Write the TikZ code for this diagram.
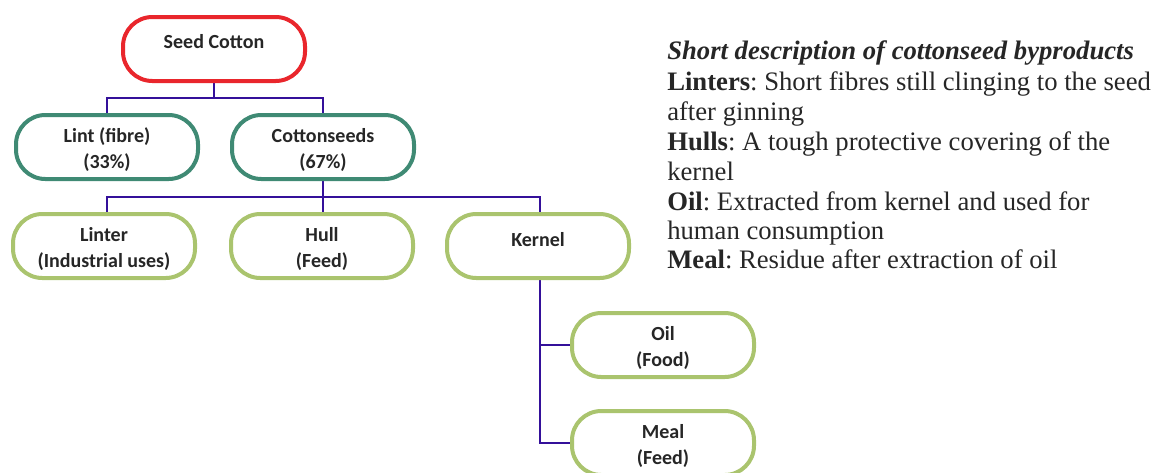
\documentclass[tikz,border=0pt]{standalone}
\usepackage{fontspec}
\newfontfamily\boxfont{Carlito}
\newfontfamily\descfont{Liberation Serif}
\definecolor{redc}{HTML}{E9262C}
\definecolor{tealc}{HTML}{3F8A74}
\definecolor{greenc}{HTML}{AAC46E}
\definecolor{linec}{HTML}{34109A}
\definecolor{txt}{HTML}{262626}
\begin{document}
\frenchspacing
\begin{tikzpicture}[x=0.75pt,y=-0.75pt,
  box/.style={draw, line width=3pt, fill=white, rounded corners=22pt,
    minimum width=136.5pt, minimum height=48pt, inner sep=0pt},
  redbox/.style={box, draw=redc},
  tealbox/.style={box, draw=tealc},
  greenbox/.style={box, draw=greenc},
  lbl/.style={inner sep=0pt, align=center, text=txt,
    font=\boxfont\bfseries\fontsize{15}{19.5}\selectfont},
  conn/.style={draw=linec, line width=1.5pt},
  desc/.style={anchor=base west, inner sep=0pt, text=txt, font=\descfont\fontsize{20}{24}\selectfont}]
\useasboundingbox (0,0) rectangle (1157,472);
\clip (0,0) rectangle (1157,472);
% junction points
\coordinate (j1) at (214,98);
\coordinate (j2) at (323,197);
\coordinate (k) at (540,280);
% connectors (drawn first, boxes on top)
\path[conn] (214,80) -- (j1);
\path[conn] (107,116) |- (j1) -| (323,116);
\path[conn] (323,178) -- (j2);
\path[conn] (107,215) |- (j2) -| (540,215);
\path[conn] (j2) -- (323,215);
\path[conn] (k) |- (573,345);
\path[conn] (k) |- (573,443);
% boxes
\node[redbox]   (seed)   at (214,49)  {};
\node[tealbox]  (lint)   at (107,147) {};
\node[tealbox]  (cs)     at (323,147) {};
\node[greenbox] (linter) at (104,246) {};
\node[greenbox] (hull)   at (322,246) {};
\node[greenbox] (kernel) at (538,246) {};
\node[greenbox] (oil)    at (663,345) {};
\node[greenbox] (meal)   at (663,443) {};
% labels
\node[lbl] (tseed)   at ([yshift=5.5pt]seed.center)   {Seed Cotton};
\node[lbl] (tlint)   at ([yshift=-2pt]lint.center)    {Lint (fibre)\\(33\%)};
\node[lbl] (tcs)     at ([yshift=-2pt]cs.center)      {Cottonseeds\\(67\%)};
\node[lbl] (tlinter) at ([yshift=-2pt]linter.center)  {Linter\\(Industrial uses)};
\node[lbl] (thull)   at ([yshift=-2pt]hull.center)    {Hull\\(Feed)};
\node[lbl] (tkernel) at ([yshift=4.5pt]kernel.center) {Kernel};
\node[lbl] (toil)    at ([yshift=-2pt]oil.center)     {Oil\\(Food)};
\node[lbl] (tmeal)   at ([yshift=-2pt]meal.center)    {Meal\\(Feed)};
% description
\node[desc] (d0) at (667,59)  {\bfseries\itshape Short description of cottonseed byproducts};
\node[desc] (d1) at (667,90)  {\bfseries Linters\mdseries: Short fibres still clinging to the seed};
\node[desc] (d2) at (667,120) {after ginning};
\node[desc] (d3) at (667,150) {\bfseries Hulls\mdseries: A tough protective covering of the};
\node[desc] (d4) at (667,180) {kernel};
\node[desc] (d5) at (667,210) {\bfseries Oil\mdseries: Extracted from kernel and used for};
\node[desc] (d6) at (667,239) {human consumption};
\node[desc] (d7) at (667,268) {\bfseries Meal\mdseries: Residue after extraction of oil};
\end{tikzpicture}
\end{document}
